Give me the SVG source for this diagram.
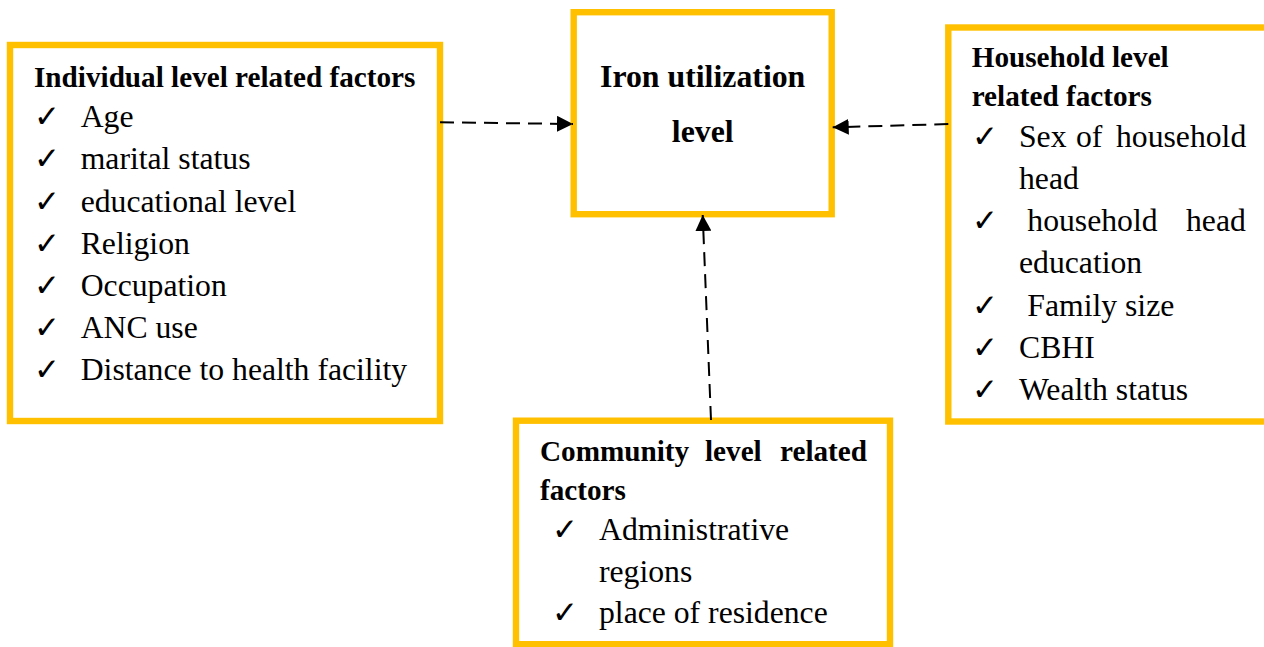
<svg xmlns="http://www.w3.org/2000/svg" width="1264" height="647" viewBox="0 0 1264 647">
<style>
  .box { fill: #ffffff; stroke: #FFC000; stroke-width: 6.4; }
  .t { font-family: "Liberation Serif", "Times New Roman", serif; font-size: 31.7px; fill: #000; }
  .h { font-family: "Liberation Serif", "Times New Roman", serif; font-size: 29.2px; font-weight: bold; fill: #000; }
  .c { font-family: "Liberation Serif", "Times New Roman", serif; font-size: 31.8px; font-weight: bold; fill: #000; text-anchor: middle; }
  .ck { font-family: "DejaVu Sans", sans-serif; font-size: 31px; font-weight: bold; fill: #000; }
  .conn { fill: none; stroke: #000; stroke-width: 2; stroke-dasharray: 14 8; marker-end: url(#arrow); }
</style>
<defs>
  <marker id="arrow" markerUnits="userSpaceOnUse" markerWidth="17" markerHeight="16" refX="16" refY="8" orient="auto">
    <path d="M0,0 L16,8 L0,16 Z" fill="#000"/>
  </marker>
</defs>
<rect width="1264" height="647" fill="#ffffff"/>

<g id="individual">
  <rect class="box" x="10" y="45" width="430" height="376"/>
  <text class="h" x="34" y="86.7">Individual level related factors</text>
  <text class="ck" x="34" y="127.3">✓</text><text class="t" x="80.7" y="127.3">Age</text>
  <text class="ck" x="34" y="169.4">✓</text><text class="t" x="80.7" y="169.4">marital status</text>
  <text class="ck" x="34" y="211.5">✓</text><text class="t" x="80.7" y="211.5">educational level</text>
  <text class="ck" x="34" y="253.6">✓</text><text class="t" x="80.7" y="253.6">Religion</text>
  <text class="ck" x="34" y="295.7">✓</text><text class="t" x="80.7" y="295.7">Occupation</text>
  <text class="ck" x="34" y="337.8">✓</text><text class="t" x="80.7" y="337.8">ANC use</text>
  <text class="ck" x="34" y="380">✓</text><text class="t" x="80.7" y="380">Distance to health facility</text>
</g>

<g id="iron">
  <rect class="box" x="573.7" y="12.2" width="258" height="202"/>
  <text class="c" x="702.7" y="87.3">Iron utilization</text>
  <text class="c" x="702.7" y="141.7">level</text>
</g>

<g id="household">
  <rect class="box" x="948.3" y="27.5" width="330" height="394"/>
  <text class="h" x="971.7" y="66.7">Household level</text>
  <text class="h" x="971.7" y="106">related factors</text>
  <text class="ck" x="972" y="147.3">✓</text>
  <text class="t" y="147.3"><tspan x="1019">Sex</tspan><tspan x="1076">of</tspan><tspan x="1116">household</tspan></text>
  <text class="t" x="1019" y="189.3">head</text>
  <text class="ck" x="972" y="231.3">✓</text>
  <text class="t" y="231.3"><tspan x="1027.3">household</tspan><tspan x="1186">head</tspan></text>
  <text class="t" x="1019" y="273.3">education</text>
  <text class="ck" x="972" y="315.5">✓</text><text class="t" x="1027.3" y="315.5">Family size</text>
  <text class="ck" x="972" y="357.5">✓</text><text class="t" x="1019" y="357.5">CBHI</text>
  <text class="ck" x="972" y="399.5">✓</text><text class="t" x="1019" y="399.5">Wealth status</text>
</g>

<g id="community">
  <rect class="box" x="516" y="420.7" width="374" height="223.5"/>
  <text class="h" y="460.7"><tspan x="540">Community</tspan><tspan x="705">level</tspan><tspan x="780">related</tspan></text>
  <text class="h" x="540" y="500">factors</text>
  <text class="ck" x="552" y="540">✓</text><text class="t" x="599" y="540">Administrative</text>
  <text class="t" x="599" y="581.5">regions</text>
  <text class="ck" x="552" y="623">✓</text><text class="t" x="599" y="623">place of residence</text>
</g>

<g id="connectors">
  <line class="conn" x1="440" y1="122.3" x2="573" y2="124"/>
  <line class="conn" x1="948.3" y1="124" x2="832.7" y2="127.3"/>
  <line class="conn" x1="711" y1="420" x2="702.7" y2="215"/>
</g>
</svg>
